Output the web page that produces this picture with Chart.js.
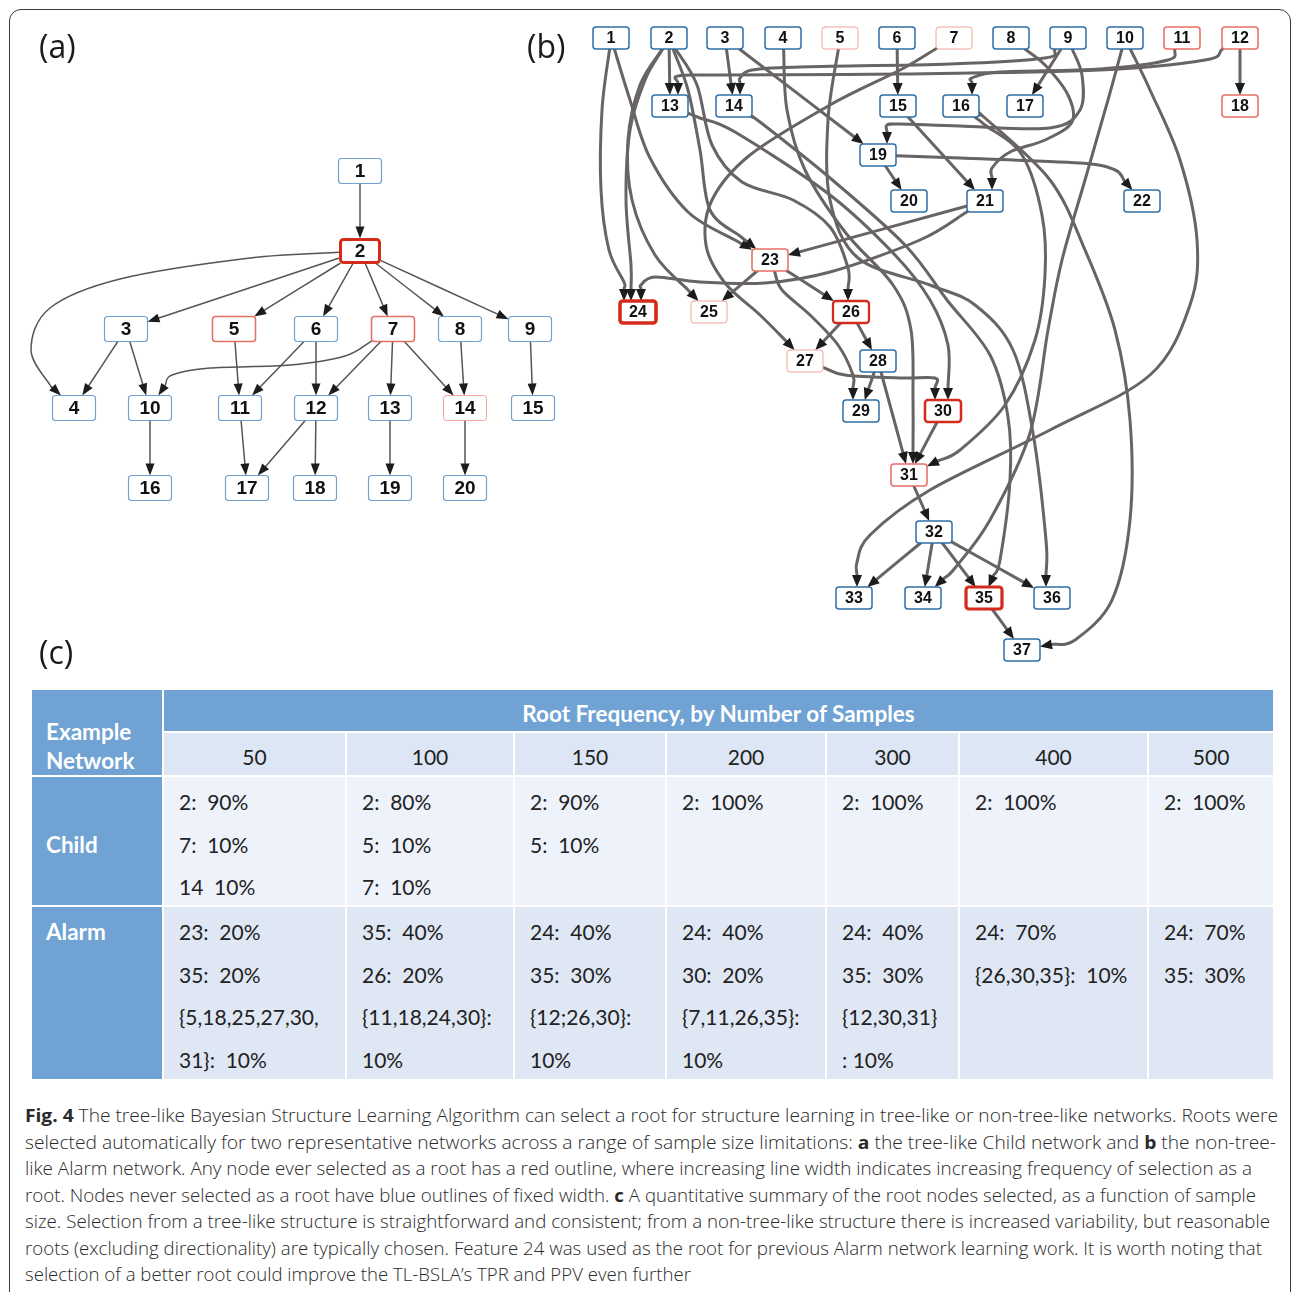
<!DOCTYPE html>
<html>
<head>
<meta charset="utf-8">
<script src="https://cdn.jsdelivr.net/npm/chart.js@4.4.1/dist/chart.umd.min.js"></script>
<style>
  html, body { margin: 0; padding: 0; background: #fff; width: 1292px; height: 1292px; overflow: hidden; }
  #frame { position: absolute; left: 9px; top: 9px; width: 1282px; height: 1330px; border: 1.5px solid #3a3a3a; border-radius: 12px; box-sizing: border-box; }
  #graphs { position: absolute; left: 0; top: 0; }
  .plabel { position: absolute; font-family: "Open Sans", sans-serif; font-size: 32px; color: #1a1a1a; line-height: 32px; }
  #tbl { position: absolute; left: 30px; top: 688px; border-collapse: collapse; table-layout: fixed; width: 1243px;
         font-family: Lato, sans-serif; font-size: 21px; color: #222; }
  #tbl td { border: 2px solid #fff; padding: 0; white-space: pre; vertical-align: top; }
  #tbl td.hd { background: #70a3d3; color: #fff; font-weight: bold; font-size: 22.5px; }
  #tbl td.num { background: #dce6f4; text-align: center; vertical-align: middle; }
  #tbl td.rowhead { background: #70a3d3; color: #fff; font-weight: bold; font-size: 22.5px; padding-left: 14px; }
  #tbl tr.child td.val { background: #eef2fa; }
  #tbl tr.alarm td.val { background: #dfe7f5; }
  #tbl td.val { padding: 0 0 0 15px; }
  #tbl td.val div, #tbl td.rowhead div { height: 42.5px; line-height: 49px; overflow: visible; }
  #caption { position: absolute; left: 25px; top: 1102px; font-family: "Open Sans", sans-serif; font-weight: 300;
             font-size: 18px; line-height: 26.5px; color: #2a2a2a; white-space: nowrap; }
  #caption span { display: inline-block; transform-origin: 0 50%; }
  #caption b { font-weight: 700; }
</style>
</head>
<body>
<div id="frame"></div>
<canvas id="graphs" width="1292" height="680"></canvas>
<div class="plabel" style="left:39px;top:30px;">(a)</div>
<div class="plabel" style="left:527px;top:30px;">(b)</div>
<div class="plabel" style="left:39px;top:636px;">(c)</div>
<table id="tbl"></table>
<div id="caption"></div>

<script>
// ---- Child network (panel a): node layout and arcs ----
const childNodeX = [360, 360, 126, 74, 234, 316, 393, 460, 530, 150, 240, 316, 390, 465, 533, 150, 247, 315, 390, 465];
const childNodeY = [171, 251, 329, 408, 329, 329, 329, 329, 329, 408, 408, 408, 408, 408, 408, 488, 488, 488, 488, 488];
const childEdges = [
  [1, 2], [2, 3], [2, 4, [[250, 258], [120, 279], [50, 308], [31, 350], [50, 385]]],
  [2, 5], [2, 6], [2, 7], [2, 8], [2, 9], [3, 4], [3, 10], [5, 11], [6, 11], [6, 12],
  [7, 10, [[345, 356], [290, 365], [210, 368], [172, 375]]],
  [7, 12], [7, 13], [7, 14], [8, 14], [9, 15], [10, 16], [11, 17], [12, 17], [12, 18], [13, 19], [14, 20]
];

// ---- Alarm network (panel b): node layout and arcs ----
const alarmNodeX = [611, 669, 725, 783, 840, 897, 954, 1011, 1068, 1125, 1182, 1240,
                    670, 734, 898, 961, 1025, 1240, 878, 909, 985, 1142, 770, 638, 709, 851,
                    805, 878, 861, 943, 909, 934, 854, 923, 984, 1052, 1022];
const alarmNodeY = [38, 38, 38, 38, 38, 38, 38, 38, 38, 38, 38, 38,
                    106, 106, 106, 106, 106, 106, 155, 201, 201, 201, 260, 312, 312, 312,
                    361, 361, 411, 411, 475, 532, 598, 598, 598, 598, 650];
const alarmEdges = [
  [1, 23, [[630, 100], [650, 158], [688, 212], [735, 240]]],
  [1, 24, [[602, 110], [601, 190], [609, 250], [624, 282]]],
  [2, 13],
  [2, 23, [[688, 90], [700, 150], [710, 210], [740, 236]]],
  [2, 24, [[645, 80], [630, 130], [626, 200], [631, 265]]],
  [2, 25, [[640, 85], [628, 140], [632, 200], [655, 255], [688, 290]]],
  [2, 26, [[697, 85], [712, 145], [742, 182], [793, 200], [830, 227], [848, 268]]],
  [3, 14], [3, 19],
  [4, 31, [[787, 110], [805, 170], [845, 232], [893, 285], [911, 330], [913, 400]]],
  [5, 36, [[828, 120], [830, 200], [858, 258], [930, 285], [975, 305], [1013, 350], [1033, 433], [1046, 540]]],
  [6, 15],
  [7, 27, [[900, 70], [830, 105], [750, 155], [712, 200], [706, 245], [725, 283], [760, 315], [785, 340]]],
  [8, 21, [[1045, 65], [1068, 95], [1072, 122], [1045, 140], [1010, 152], [992, 168]]],
  [9, 14, [[1045, 58], [950, 64], [800, 67], [752, 70], [740, 78]]],
  [9, 17],
  [9, 19, [[1082, 75], [1080, 110], [1050, 128], [960, 126], [900, 124], [887, 125]]],
  [10, 33, [[1150, 90], [1180, 160], [1197, 240], [1190, 305], [1150, 375], [1050, 430], [930, 490], [870, 535], [857, 562]]],
  [10, 34, [[1108, 100], [1085, 180], [1062, 260], [1048, 330], [1030, 433], [990, 520], [955, 568]]],
  [11, 16, [[1168, 60], [1100, 69], [1000, 72], [972, 78]]],
  [12, 13, [[1205, 60], [1100, 70], [900, 74], [720, 75], [678, 76]]],
  [12, 18],
  [13, 30, [[700, 118], [735, 132], [830, 195], [895, 255], [930, 300], [948, 345]]],
  [14, 35, [[760, 122], [830, 178], [905, 245], [947, 300], [990, 355], [1008, 417], [1010, 480], [1000, 560]]],
  [15, 21],
  [16, 31, [[985, 125], [1022, 155], [1042, 215], [1045, 275], [1035, 340], [1005, 405], [960, 450]]],
  [16, 37, [[985, 118], [1050, 180], [1085, 250], [1115, 330], [1130, 420], [1130, 520], [1112, 600], [1075, 640]]],
  [19, 20],
  [19, 22, [[960, 158], [1080, 163], [1115, 170]]],
  [21, 23],
  [21, 24, [[920, 240], [830, 272], [765, 283], [700, 282], [655, 277], [641, 285]]],
  [23, 25], [23, 26],
  [23, 29, [[782, 290], [810, 315], [838, 345], [853, 375]]],
  [26, 27], [26, 28],
  [27, 30, [[845, 375], [900, 378], [935, 378]]],
  [28, 29], [28, 31], [30, 31], [31, 32],
  [32, 33], [32, 34], [32, 35], [32, 36], [35, 37]
];

// ---- Root selection summary (panel c) ----
const sampleSizes = [50, 100, 150, 200, 300, 400, 500];
const childRootText = [
  ['2:  90%', '7:  10%', '14  10%'],
  ['2:  80%', '5:  10%', '7:  10%'],
  ['2:  90%', '5:  10%'],
  ['2:  100%'], ['2:  100%'], ['2:  100%'], ['2:  100%']
];
const alarmRootText = [
  ['23:  20%', '35:  20%', '{5,18,25,27,30,', '31}:  10%'],
  ['35:  40%', '26:  20%', '{11,18,24,30}:', '10%'],
  ['24:  40%', '35:  30%', '{12;26,30}:', '10%'],
  ['24:  40%', '30:  20%', '{7,11,26,35}:', '10%'],
  ['24:  40%', '35:  30%', '{12,30,31}', ': 10%'],
  ['24:  70%', '{26,30,35}:  10%'],
  ['24:  70%', '35:  30%']
];

const captionLines = [
  '<b>Fig. 4</b> The tree-like Bayesian Structure Learning Algorithm can select a root for structure learning in tree-like or non-tree-like networks. Roots were',
  'selected automatically for two representative networks across a range of sample size limitations: <b>a</b> the tree-like Child network and <b>b</b> the non-tree-',
  'like Alarm network. Any node ever selected as a root has a red outline, where increasing line width indicates increasing frequency of selection as a',
  'root. Nodes never selected as a root have blue outlines of fixed width. <b>c</b> A quantitative summary of the root nodes selected, as a function of sample',
  'size. Selection from a tree-like structure is straightforward and consistent; from a non-tree-like structure there is increased variability, but reasonable',
  'roots (excluding directionality) are typically chosen. Feature 24 was used as the root for previous Alarm network learning work. It is worth noting that',
  'selection of a better root could improve the TL-BSLA\u2019s TPR and PPV even further'
];

// Sum of selection percentages per node, read from the summary cells
function rootTotals(cells) {
  const tot = {};
  cells.forEach(lines => {
    const s = lines.join(' ');
    const re = /(\{[^}]*\}|\d+)\s*:?\s*(\d+)%/g;
    let m;
    while ((m = re.exec(s))) {
      const ids = m[1].replace(/[{}\s]/g, '').split(/[,;]/).filter(Boolean).map(Number);
      ids.forEach(id => { tot[id] = (tot[id] || 0) + Number(m[2]); });
    }
  });
  return tot;
}
const childFreq = rootTotals(childRootText);
const alarmFreq = rootTotals(alarmRootText);

function mix(a, b, t) {
  const pa = [1, 3, 5].map(i => parseInt(a.substr(i, 2), 16));
  const pb = [1, 3, 5].map(i => parseInt(b.substr(i, 2), 16));
  return 'rgb(' + pa.map((v, i) => Math.round(v + (pb[i] - v) * t)).join(',') + ')';
}

const panelStyles = [
  { edges: childEdges, freq: childFreq, hw: 21.5, hh: 12.5, font: 'bold 19px "Liberation Sans", Arial, sans-serif',
    edgeColor: '#555555', edgeWidth: 1.5, arrowLen: 12, arrowHalf: 4.5, blue: '#72a2cf', blueWidth: 1.2, maxRed: 3, inset: true },
  { edges: alarmEdges, freq: alarmFreq, hw: 18, hh: 11, font: 'bold 16px "Liberation Sans", Arial, sans-serif',
    edgeColor: '#686464', edgeWidth: 3, arrowLen: 12, arrowHalf: 5, blue: '#2f6ea6', blueWidth: 1.5, maxRed: 4, inset: false }
];

function exitPoint(c, p, hw, hh) {
  const dx = p.x - c.x, dy = p.y - c.y;
  const t = Math.min(dx ? hw / Math.abs(dx) : Infinity, dy ? hh / Math.abs(dy) : Infinity);
  return { x: c.x + dx * Math.min(t, 1), y: c.y + dy * Math.min(t, 1) };
}
function entryPoint(p, c, hw, hh, usePort) {
  if (usePort && Math.abs(p.x - c.x) <= hw - 2 && Math.abs(p.y - c.y) > hh) {
    return { x: p.x, y: p.y < c.y ? c.y - hh : c.y + hh };
  }
  const dx = c.x - p.x, dy = c.y - p.y;
  const tx = dx ? (Math.abs(dx) - hw) / Math.abs(dx) : -Infinity;
  const ty = dy ? (Math.abs(dy) - hh) / Math.abs(dy) : -Infinity;
  const t = Math.max(0, Math.min(1, Math.max(tx, ty)));
  return { x: p.x + dx * t, y: p.y + dy * t };
}
function roundRect(ctx, x, y, w, h, r) {
  ctx.beginPath();
  ctx.moveTo(x + r, y);
  ctx.arcTo(x + w, y, x + w, y + h, r);
  ctx.arcTo(x + w, y + h, x, y + h, r);
  ctx.arcTo(x, y + h, x, y, r);
  ctx.arcTo(x, y, x + w, y, r);
  ctx.closePath();
}

const networkPlugin = {
  id: 'networkPlugin',
  afterDatasetsDraw(chart) {
    const ctx = chart.ctx;
    const sx = chart.scales.x, sy = chart.scales.y;
    panelStyles.forEach((st, di) => {
      const pts = chart.getDatasetMeta(di).data;
      const centre = n => ({ x: pts[n - 1].x, y: pts[n - 1].y });
      ctx.save();
      ctx.lineCap = 'round';
      ctx.lineJoin = 'round';
      // arcs
      st.edges.forEach(e => {
        const a = centre(e[0]), b = centre(e[1]);
        const via = (e[2] || []).map(v => ({ x: sx.getPixelForValue(v[0]), y: sy.getPixelForValue(v[1]) }));
        const first = via.length ? via[0] : b;
        const last = via.length ? via[via.length - 1] : a;
        const start = exitPoint(a, first, st.hw, st.hh);
        const end = entryPoint(last, b, st.hw, st.hh, via.length > 0);
        let dx = end.x - last.x, dy = end.y - last.y;
        if (!via.length) { dx = end.x - start.x; dy = end.y - start.y; }
        const len = Math.hypot(dx, dy) || 1;
        const ux = dx / len, uy = dy / len;
        const base = { x: end.x - ux * st.arrowLen, y: end.y - uy * st.arrowLen };
        const path = [a, start].concat(via, [base, end]);
        ctx.strokeStyle = st.edgeColor;
        ctx.lineWidth = st.edgeWidth;
        ctx.beginPath();
        ctx.moveTo(start.x, start.y);
        for (let i = 1; i < path.length - 2; i++) {
          const p0 = path[i - 1], p1 = path[i], p2 = path[i + 1], p3 = path[i + 2];
          ctx.bezierCurveTo(p1.x + (p2.x - p0.x) / 6, p1.y + (p2.y - p0.y) / 6,
                            p2.x - (p3.x - p1.x) / 6, p2.y - (p3.y - p1.y) / 6, p2.x, p2.y);
        }
        ctx.stroke();
        ctx.fillStyle = '#1c1c1c';
        ctx.beginPath();
        ctx.moveTo(end.x, end.y);
        ctx.lineTo(base.x - uy * st.arrowHalf, base.y + ux * st.arrowHalf);
        ctx.lineTo(base.x + uy * st.arrowHalf, base.y - ux * st.arrowHalf);
        ctx.closePath();
        ctx.fill();
      });
      // node boxes
      ctx.textAlign = 'center';
      ctx.textBaseline = 'middle';
      ctx.font = st.font;
      pts.forEach((p, i) => {
        const id = i + 1;
        const f = st.freq[id];
        let stroke = st.blue, lw = st.blueWidth;
        if (f) {
          const t = Math.min(1, Math.log(f / 10) / Math.log(5));
          stroke = mix('#f3a29a', '#d42c1c', t);
          lw = Math.min(st.maxRed, 1 + 0.55 * Math.log2(f / 10));
        }
        const shrink = st.inset && lw > 2 ? lw - 1 : 0;
        const w = st.hw * 2 - shrink * 2, h = st.hh * 2 - shrink;
        ctx.fillStyle = '#ffffff';
        roundRect(ctx, p.x - w / 2, p.y - h / 2, w, h, 3);
        ctx.fill();
        ctx.lineWidth = lw;
        ctx.strokeStyle = stroke;
        ctx.stroke();
        ctx.fillStyle = '#111111';
        ctx.fillText(String(id), p.x, p.y + 1);
      });
      ctx.restore();
    });
  }
};

new Chart(document.getElementById('graphs'), {
  type: 'scatter',
  data: {
    datasets: [
      { label: 'Child', data: childNodeX.map((x, i) => ({ x, y: childNodeY[i] })), pointRadius: 0, pointHoverRadius: 0 },
      { label: 'Alarm', data: alarmNodeX.map((x, i) => ({ x, y: alarmNodeY[i] })), pointRadius: 0, pointHoverRadius: 0 }
    ]
  },
  options: {
    responsive: false,
    animation: false,
    devicePixelRatio: 1,
    layout: { padding: 0 },
    events: [],
    plugins: { legend: { display: false }, tooltip: { enabled: false } },
    scales: {
      x: { type: 'linear', min: 0, max: 1292, display: false },
      y: { type: 'linear', min: 0, max: 680, reverse: true, display: false }
    }
  },
  plugins: [networkPlugin]
});

// ---- summary table ----
(function buildTable() {
  const tbl = document.getElementById('tbl');
  const colW = [132, 183, 168, 152, 160, 133, 189, 126];
  const cg = document.createElement('colgroup');
  colW.forEach(w => { const c = document.createElement('col'); c.style.width = w + 'px'; cg.appendChild(c); });
  tbl.appendChild(cg);

  const r1 = tbl.insertRow(); r1.style.height = '43px';
  const ex = r1.insertCell(); ex.className = 'hd'; ex.rowSpan = 2;
  ex.style.cssText = 'vertical-align:bottom;padding:0 0 0 14px;line-height:29px;';
  ex.innerHTML = 'Example\nNetwork';
  const rf = r1.insertCell(); rf.className = 'hd'; rf.colSpan = sampleSizes.length;
  rf.style.cssText = 'text-align:center;vertical-align:middle;padding-top:5px;';
  rf.textContent = 'Root Frequency, by Number of Samples';

  const r2 = tbl.insertRow(); r2.style.height = '44px';
  sampleSizes.forEach(n => { const c = r2.insertCell(); c.className = 'num'; c.style.paddingTop = '4px'; c.textContent = n; });

  [['Child', childRootText, 'child', 130, true], ['Alarm', alarmRootText, 'alarm', 174, false]].forEach(([name, cells, cls, h, mid]) => {
    const r = tbl.insertRow(); r.className = cls; r.style.height = h + 'px';
    const hc = r.insertCell(); hc.className = 'rowhead';
    hc.style.verticalAlign = mid ? 'middle' : 'top';
    hc.innerHTML = '<div>' + name + '</div>';
    cells.forEach(lines => {
      const c = r.insertCell(); c.className = 'val';
      lines.forEach(t => { const d = document.createElement('div'); d.textContent = t; c.appendChild(d); });
    });
  });
})();

// ---- caption: each line fitted to its printed width ----
(function buildCaption() {
  const cap = document.getElementById('caption');
  const lineWidths = [1253, 1251, 1227, 1231, 1245, 1237, 666];
  captionLines.forEach((l, i) => {
    const row = document.createElement('div');
    const span = document.createElement('span');
    span.innerHTML = l;
    row.appendChild(span);
    cap.appendChild(row);
    const w = span.getBoundingClientRect().width;
    span.style.transform = 'scaleX(' + (lineWidths[i] / w) + ')';
  });
})();
</script>
</body>
</html>
